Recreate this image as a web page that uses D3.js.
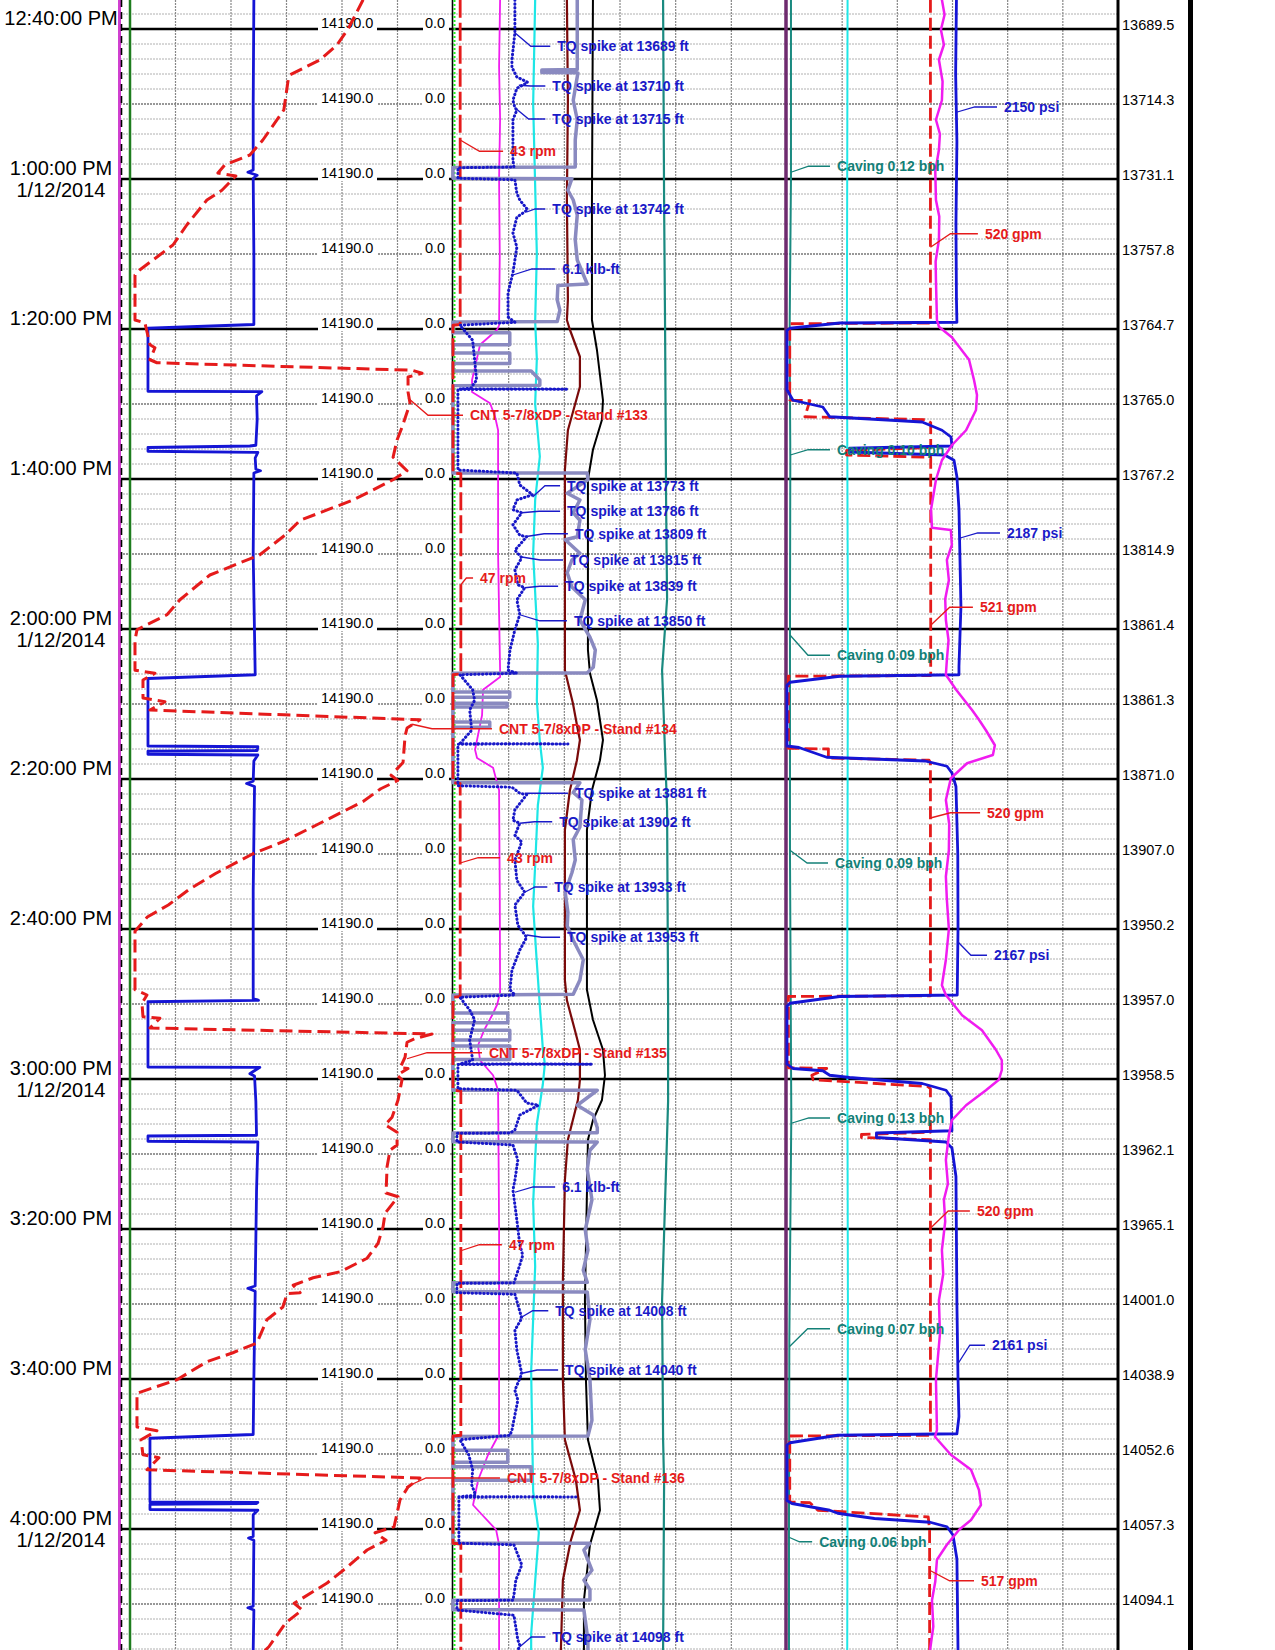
<!DOCTYPE html>
<html><head><meta charset="utf-8">
<script src="https://cdn.jsdelivr.net/npm/d3@7/dist/d3.min.js"></script>
<style>
html,body{margin:0;padding:0;background:#fff;}
svg{display:block;}
text{font-family:"Liberation Sans",Arial,sans-serif;}
</style></head><body>
<svg id="chart" width="1275" height="1650"></svg>
<script>
// ---------- DATA (time = minutes after 12:00 PM, 1/12/2014) ----------
const depthLabels = ["13689.5","13714.3","13731.1","13757.8","13764.7","13765.0","13767.2","13814.9","13861.4","13861.3","13871.0","13907.0","13950.2","13957.0","13958.5","13962.1","13965.1","14001.0","14038.9","14052.6","14057.3","14094.1"];
const scaleLeftLabel = "14190.0";
const scaleRightLabel = "0.0";

// Track 1
const hookLoad = [[36.1,201],[50,200],[58.8,200],[59.1,192],[59.5,206],[59.9,200],[70,201],[79.4,201],[79.9,42],[88.3,42],[88.35,213],[88.9,205],[92,206],[95.5,204],[95.6,195],[95.8,42],[96.3,42],[96.45,207],[97.2,203],[98.7,204],[98.9,211],[99.2,201],[110,200],[126.1,203],[126.6,42],[135.6,42],[135.7,207],[136.2,206],[136.3,42],[136.7,42],[136.8,207],[137.6,201],[140.3,200],[140.6,190],[141,202],[155,200],[169.3,200],[169.5,208],[169.7,42],[178.4,42],[178.45,210],[179,200],[179.3,195],[179.6,202],[183,204],[187.5,205],[187.6,42],[188.3,42],[188.4,207],[195,205],[207.6,203],[207.9,192],[208.3,203],[220,201],[227.4,200],[227.9,45],[236.4,45],[236.45,207],[236.6,205],[236.7,45],[237.4,45],[237.5,207],[238.1,200],[241,200],[241.2,193],[241.5,201],[250.3,200],[250.5,192],[250.8,201],[256.2,200]];
const blockHeight = [[36.1,73.0],[40,68.5],[42.1,65.2],[44.1,60.1],[46.1,51.1],[46.8,50.5],[50.8,49.2],[54.8,42.9],[56.8,39.0],[58.1,31.5],[59.2,29.4],[59.6,34.8],[61.5,30.6],[62.8,26.1],[66.1,20.1],[68.8,15.9],[70.1,12.0],[72.1,6.0],[72.8,4.5],[78.8,4.5],[79.2,7.5],[82.1,9.0],[82.5,10.5],[84.1,9.0],[84.5,11.1],[85.5,87.7],[85.9,90.7],[86.4,86.5],[88.4,86.5],[89.9,87.1],[93.1,84.7],[94.8,83.2],[97.1,82.0],[98.9,86.2],[100.1,82.0],[102.8,70.0],[105.5,54.1],[107.5,49.5],[110.1,42.0],[112.8,27.0],[116.1,18.0],[118.1,14.1],[120.1,5.1],[121.5,4.5],[125.5,4.5],[125.9,10.5],[126.8,6.9],[129.2,6.9],[129.7,13.5],[130.8,9.0],[132.1,90.1],[133.2,86.2],[134.3,85.6],[137.8,85.0],[139.5,81.4],[140.2,83.4],[141.3,78.3],[143.0,73.0],[146.2,58.7],[148.3,49.2],[150.0,39.8],[152.6,28.7],[154.7,20.8],[156.8,14.5],[158.4,8.2],[160.3,4.5],[168.1,4.5],[168.8,8.1],[169.9,6.6],[171.7,6.9],[171.9,12.0],[173.2,9.0],[174.0,93.7],[174.6,88.6],[175.1,86.2],[177.1,85.6],[178.5,84.1],[178.6,86.5],[179.5,83.2],[180.1,84.7],[182.8,83.5],[185.1,81.7],[186.1,79.6],[187.1,83.2],[188.8,83.2],[189.5,81.1],[191.7,80.2],[195.2,79.9],[195.7,83.5],[197.9,79.6],[199.7,79.0],[201.9,77.5],[203.9,74.2],[205.7,66.1],[206.5,58.0],[207.5,52.0],[208.5,54.1],[208.6,50.2],[210.4,48.9],[212.1,44.1],[215.2,41.1],[216.5,33.9],[217.7,26.1],[220.1,17.1],[221.9,5.1],[226.4,5.1],[226.9,11.1],[228.1,6.3],[230.1,6.9],[230.5,11.7],[232.1,8.1],[233.2,90.1],[234.4,86.5],[236.1,84.1],[239.7,82.3],[240.5,76.6],[241.5,79.9],[242.8,74.2],[245.1,68.2],[247.2,62.2],[249.9,52.3],[250.8,54.7],[252.5,49.8],[255.7,44.7],[256.2,43.5]];

// Track 2
const rpm = [[36.1,43],[79.4,43],[79.5,0],[99.2,0],[99.3,47],[126.0,47],[126.1,0],[140.5,0],[140.6,43],[169.0,43],[169.1,0],[181.5,0],[181.6,47],[227.5,47],[227.6,0],[241.9,0],[242.0,47],[256.2,47]];
const torque = [[36.1,6.3],[40.5,6.3],[44.1,6.0],[45.1,6.0],[46.4,6.5],[47.1,7.6],[47.9,6.5],[49.5,6.1],[50.5,6.3],[50.8,6.5],[52.1,6.1],[57.5,6.1],[58.4,6.2],[58.5,0.5],[59.9,0.5],[60.1,6.3],[61.9,6.5],[62.8,6.8],[64.1,7.6],[65.1,6.5],[67.2,6.1],[69.1,6.5],[72.5,6.1],[75.2,5.6],[78.4,5.6],[79.1,6.3],[79.5,0.7],[81.5,2.0],[84.1,2.2],[86.8,2.4],[87.9,1.8],[88.0,0.7],[88.02,11.7],[88.06,0.5],[98.8,0.5],[99.2,6.5],[100.8,6.8],[102.1,8.1],[102.8,6.5],[104.1,6.1],[104.5,7.0],[106.1,6.1],[107.5,6.8],[107.7,7.5],[109.5,6.3],[110.5,7.0],[112.1,6.3],[114.1,6.6],[114.5,7.3],[116.1,6.5],[118.1,6.8],[120.1,6.3],[122.8,5.8],[125.5,5.6],[125.9,6.5],[126.1,0.7],[128.1,2.0],[129.5,2.2],[130.8,1.7],[133.5,1.9],[135.3,0.7],[135.32,11.7],[135.36,0.5],[140.9,0.5],[141.1,6.0],[141.9,6.8],[142.1,7.5],[144.1,6.3],[145.5,6.1],[145.9,6.8],[147.5,6.3],[148.4,7.0],[150.8,6.3],[153.5,6.5],[155.1,7.3],[156.8,6.3],[159.5,6.6],[161.1,7.5],[162.8,6.8],[165.5,6.0],[168.1,5.8],[168.8,6.3],[169.1,0.7],[170.8,1.7],[172.1,2.2],[174.8,1.7],[177.5,2.0],[178.0,0.7],[178.02,14.2],[178.06,0.5],[181.3,0.5],[181.5,6.5],[183.2,7.5],[183.5,8.7],[184.8,6.8],[186.8,6.3],[187.2,5.8],[187.25,0.4],[188.4,0.4],[188.8,6.1],[190.8,6.6],[193.5,6.3],[194.8,6.1],[198.8,6.5],[202.1,6.8],[203.5,7.1],[204.8,6.8],[206.8,6.3],[207.2,6.2],[207.25,0.4],[208.5,0.4],[208.7,6.3],[211.9,7.0],[213.5,6.3],[216.1,6.5],[219.3,7.0],[221.5,6.3],[222.8,6.6],[226.8,6.0],[227.5,5.8],[228.1,0.7],[230.1,1.6],[232.1,2.0],[234.1,1.9],[235.5,2.3],[235.7,0.6],[235.72,12.5],[235.76,0.6],[241.9,0.6],[242.1,6.2],[244.1,6.8],[244.8,7.0],[246.8,6.4],[248.8,6.2],[249.5,6.1],[249.55,0.4],[250.8,0.4],[251.5,6.2],[254.8,6.6],[255.5,6.8],[256.2,6.6]];
const wob = [[36.1,18.6],[45.4,18.6],[45.45,13.3],[45.8,13.3],[45.85,18.7],[49.5,18.0],[52.1,18.6],[54.8,18.3],[58.4,18.3],[58.45,0],[59.9,0],[59.95,17.8],[61.5,17.2],[62.8,18.0],[64.8,18.6],[68.1,18.3],[70.8,18.6],[74.0,20.1],[74.2,15.7],[76.1,15.6],[77.5,16.0],[79.0,15.6],[79.05,0],[80.5,0],[80.5,8.5],[82.1,8.5],[82.1,0],[83.2,0],[83.2,8.5],[84.6,8.5],[84.6,0],[85.6,0],[85.6,11.7],[86.8,13.0],[87.5,13.0],[87.55,0],[99.2,0],[99.2,20.1],[100.1,20.2],[101.9,17.1],[102.8,19.0],[104.5,18.0],[105.5,19.0],[107.7,18.6],[108.1,16.8],[109.9,19.0],[110.8,17.8],[112.5,17.1],[114.4,17.8],[116.1,19.8],[118.8,19.0],[121.1,20.5],[122.8,21.3],[125.1,21.0],[125.85,20.1],[125.9,0],[128.4,0],[128.4,8.5],[129.1,8.5],[129.1,0],[129.9,0],[129.9,8.1],[130.4,8.1],[130.4,0],[132.4,0],[132.4,5.5],[133.1,5.5],[133.1,0],[140.5,0],[140.5,19.0],[141.8,18.0],[142.8,19.3],[146.4,19.0],[148.1,18.0],[150.8,18.3],[152.5,17.8],[155.1,16.8],[157.8,17.2],[159.6,17.1],[161.5,18.0],[164.1,19.5],[166.8,19.0],[168.7,18.0],[168.8,0],[171.2,0],[171.2,8.2],[172.5,8.2],[172.5,0],[173.5,0],[173.5,8.5],[174.8,8.5],[174.8,0],[175.6,0],[175.6,8.5],[177.4,8.5],[177.4,0],[181.5,0],[181.5,21.6],[183.5,18.6],[184.8,21.0],[186.5,21.6],[187.15,21.6],[187.2,0],[188.35,0],[188.4,21.6],[189.5,20.5],[192.1,20.1],[196.1,20.8],[200.1,19.8],[202.8,20.2],[205.5,19.5],[207.1,20.1],[207.15,0],[208.35,0],[208.4,20.1],[212.1,20.5],[216.1,19.8],[220.1,20.5],[225.5,20.8],[227.6,20.2],[227.65,0],[229.5,0],[229.5,8.2],[231.1,8.2],[231.1,0],[231.7,0],[231.7,11.7],[233.5,11.7],[233.5,0],[241.9,0],[241.9,20.5],[242.8,19.6],[245.5,20.8],[246.8,19.6],[248.1,20.5],[249.45,20.5],[249.5,0],[250.75,0],[250.8,19.6],[254.8,20.2],[256.2,20.2]];
const magenta2 = [[36.1,14.1],[45,13.8],[52,14.1],[60,13.8],[70,14.0],[79.5,13.8],[80.1,13.2],[82.1,8.1],[86.8,5.7],[88.4,5.7],[89.9,11.1],[91.7,12.6],[93.5,13.5],[110,13.5],[118,13.8],[125.5,14.1],[126.4,14.1],[128.1,9.0],[131.5,8.7],[136.1,6.6],[137.2,7.2],[138.5,12.0],[141.5,13.8],[155,14.0],[168.5,14.1],[170.1,13.2],[171.5,11.7],[173.5,9.3],[175.5,7.5],[177.5,8.1],[179.5,12.0],[181.5,13.5],[200,13.8],[227.5,13.8],[228.1,12.9],[230.1,10.5],[233.5,7.5],[236.8,6.0],[238.1,8.7],[240.1,12.9],[242.1,13.8],[256.2,13.8]];
const cyan2 = [[36.1,24.6],[50,24.0],[70,25.1],[79,24.6],[84,25.1],[90,24.6],[97,26.0],[102.8,24.6],[110,24.0],[122,25.4],[129.5,25.1],[135,26.0],[138.5,26.9],[143.5,25.4],[151.5,24.6],[157,24.0],[164.5,25.1],[176,26.9],[178,27.5],[180.7,26.9],[186,25.1],[196.5,24.0],[205,24.6],[219,23.4],[235,24.0],[240.5,25.7],[254,23.4],[256.2,23.4]];
const maroon2 = [[36.1,34.1],[49.5,34.4],[62.8,34.1],[76.1,34.4],[78.8,34.1],[80.1,35.0],[83.7,38.0],[87.7,38.0],[93.5,34.4],[98.8,33.5],[125.5,33.5],[129.9,35.9],[133.5,37.4],[134.8,38.0],[137.5,37.1],[141.5,35.0],[146.8,33.5],[166.8,33.5],[169.5,34.1],[173.5,36.5],[176.1,38.0],[180.1,38.0],[182.8,37.4],[188.1,34.4],[193.5,33.5],[206.8,32.9],[220.1,32.9],[228.1,33.5],[233.5,36.8],[237.5,38.0],[241.5,35.3],[246.8,32.9],[256.2,32.3]];
const black2 = [[36.1,41.9],[62.8,41.6],[78.8,41.6],[82.8,43.1],[89.5,44.9],[92.1,44.6],[96.1,41.9],[100.1,40.4],[122.8,40.4],[125.9,41.0],[129.5,43.1],[134.8,44.9],[137.5,44.0],[141.5,41.6],[146.8,40.1],[168.1,40.1],[172.1,41.9],[176.1,44.9],[179.5,45.5],[182.8,44.6],[185.5,41.9],[188.1,40.4],[209.5,39.5],[220.1,39.8],[228.1,40.4],[233.5,43.4],[237.5,44.0],[242.1,41.0],[249.5,39.2],[256.2,39.2]];
const teal2 = [[36.1,62.9],[62.8,63.2],[80,63.5],[103,63.8],[116,64.1],[125.5,62.6],[144,64.1],[170,64.4],[183,64.4],[209.5,62.6],[228,62.9],[234,63.2],[256.2,62.9]];

// Track 3
const flow = [[36.1,520],[79.2,520],[79.3,10],[89.45,10],[89.5,22],[89.55,83],[91.7,65],[92.1,505],[92.5,521],[95.8,521],[96.2,216],[96.8,216],[97.1,521],[126.2,521],[126.3,5],[135.9,5],[136.0,150],[137.2,150],[137.5,515],[137.8,520],[168.9,520],[169.0,5],[178.5,5],[178.6,144],[179.5,90],[180.1,95],[181.0,510],[181.3,520],[187.1,520],[187.4,270],[187.8,270],[188.1,520],[227.5,520],[227.6,10],[236.4,10],[236.5,83],[237.5,112],[238.4,512],[240.1,517],[256.2,517]];
const spp = [[36.1,2150],[46,2140],[55,2156],[66,2144],[76,2150],[79.1,2156],[79.2,668],[79.9,38],[80.2,0],[88.1,0],[89.5,76],[90.4,454],[91.7,542],[92.4,1715],[93.5,1967],[94.4,2081],[95.6,2093],[95.9,794],[96.4,794],[96.8,2000],[97.5,2119],[99.7,2156],[104,2182],[117,2207],[125,2182],[126.1,2182],[126.3,668],[127.1,38],[127.5,0],[135.6,0],[135.8,151],[137.1,504],[137.6,1753],[138.3,2030],[139.2,2093],[141,2144],[150,2167],[160,2170],[168.8,2160],[169.0,668],[169.9,38],[170.3,0],[178.0,0],[178.6,76],[178.9,454],[179.5,542],[179.8,794],[180.6,1715],[181.5,2018],[182.4,2081],[186.9,2093],[187.2,1135],[187.8,1135],[188.4,2018],[189.2,2093],[193,2144],[210,2156],[220,2170],[225,2182],[227.3,2156],[227.5,643],[228.5,38],[228.8,0],[236.2,0],[236.6,63],[237.5,542],[237.9,643],[238.6,1110],[239.1,1816],[239.7,2030],[240.8,2106],[244,2156],[256.2,2170]];
const magenta3 = [[36.1,46.8],[38.1,47.6],[40.1,46.5],[42.1,47.4],[44.1,45.9],[47,47.0],[49.5,46.8],[52.1,45.0],[54,46.2],[56.1,45.9],[59,44.8],[62.8,45.0],[65,46.0],[68.1,45.9],[71,44.9],[73.5,45.0],[78.8,45.3],[79.7,45.9],[81.1,49.8],[84.1,55.0],[86.8,56.5],[88.8,57.4],[90.8,57.1],[93.5,54.1],[95.5,49.8],[97.5,46.8],[100.1,45.0],[104.1,43.5],[106.5,43.8],[106.8,49.5],[108.8,49.8],[110.8,48.3],[113.5,48.9],[116,47.8],[118.8,48.0],[121.5,48.8],[124.1,48.3],[126.1,48.0],[128.1,51.1],[130.8,55.9],[132.1,58.0],[133.5,60.1],[135.5,62.8],[136.8,62.2],[137.9,54.4],[139.9,49.5],[142.8,48.0],[146,49.0],[149.5,48.9],[153,48.0],[156.1,48.3],[160,48.9],[164.1,48.0],[167.5,46.8],[168.8,48.0],[171.5,52.9],[173.5,58.9],[176.1,63.1],[177.5,64.9],[178.8,64.9],[180.1,64.0],[181.5,60.1],[183.5,54.1],[185.5,49.8],[187.5,48.9],[190.8,48.0],[194,48.6],[196.1,47.4],[199,47.8],[202.8,46.8],[206,47.2],[209.5,45.9],[214,46.2],[220.1,45.0],[226.8,45.3],[227.7,44.7],[230.1,49.5],[232.1,55.6],[234.8,58.0],[236.8,58.6],[238.8,55.6],[240.1,52.0],[242.1,48.3],[244.1,45.3],[247,44.8],[249.5,43.8],[253,44.2],[256.2,43.2]];
const cyan3 = [[36.1,18.3],[80,18.1],[120,18.4],[170,18.2],[210,18.4],[256.2,18.2]];
const caving = [[36.1,0.12],[60,0.12],[80,0.08],[97,0.10],[120,0.09],[150,0.09],[185,0.13],[200,0.10],[215,0.07],[241,0.06],[256.2,0.06]];

// Annotations: [text, tip time, tip value, label time, leader-end value]
const torqueNotes = [["TQ spike at 13689 ft",40.5,6.3,42.3,9.9],["TQ spike at 13710 ft",47.5,6.7,47.6,9.4],["TQ spike at 13715 ft",50.5,6.3,52.0,9.4],["TQ spike at 13742 ft",64.4,7.5,64.0,9.4],["6.1 klb-ft",72.8,6.1,72.0,10.4],["TQ spike at 13773 ft",102.4,8.1,100.9,10.9],["TQ spike at 13786 ft",104.5,7.0,104.3,10.9],["TQ spike at 13809 ft",107.7,7.3,107.3,11.7],["TQ spike at 13815 ft",110.4,7.0,110.8,11.2],["TQ spike at 13839 ft",114.5,7.3,114.3,10.7],["TQ spike at 13850 ft",118.1,6.8,118.9,11.6],["TQ spike at 13881 ft",141.9,7.3,141.9,11.7],["TQ spike at 13902 ft",145.9,6.8,145.7,10.1],["TQ spike at 13933 ft",155.1,7.3,154.4,9.6],["TQ spike at 13953 ft",160.8,7.5,161.1,10.9],["6.1 klb-ft",195.1,6.3,194.4,10.4],["TQ spike at 14008 ft",211.9,6.8,210.9,9.7],["TQ spike at 14040 ft",219.3,6.8,218.8,10.7],["TQ spike at 14098 ft",255.7,6.8,254.4,9.4]];
const rpmNotes = [["43 rpm",54.8,43,56.3,300],["47 rpm",114.1,47,113.2,120],["43 rpm",151.2,43,150.5,282],["47 rpm",202.9,47,202.1,293]];
const standNotes = [["CNT 5-7/8xDP - Stand #133",89.2,86.5,91.5,103.0],["CNT 5-7/8xDP - Stand #134",132.7,87.7,133.3,111.7],["CNT 5-7/8xDP - Stand #135",177.3,86.2,176.5,108.7],["CNT 5-7/8xDP - Stand #136",234.4,85.9,233.2,114.1]];
const sppNotes = [["2150 psi",51.1,2150,50.4,2665],["2187 psi",107.9,2187,107.2,2703],["2167 psi",161.7,2167,163.5,2538],["2161 psi",218.1,2161,215.5,2513]];
const flowNotes = [["520 gpm",69.1,520,67.3,692],["521 gpm",119.5,521,117.1,674],["520 gpm",145.2,520,144.5,700],["520 gpm",199.9,520,197.6,663],["517 gpm",245.5,517,246.9,678]];
const cavingNotes = [["Caving 0.12 bph",59.1,0.12,58.3,1.30],["Caving 0.10 bph",96.8,0.10,96.1,1.30],["Caving 0.09 bph",120.8,0.09,123.5,1.30],["Caving 0.09 bph",149.5,0.09,151.2,1.24],["Caving 0.13 bph",185.9,0.13,185.2,1.30],["Caving 0.07 bph",215.7,0.07,213.3,1.30],["Caving 0.06 bph",241.1,0.06,241.7,0.76]];

// ---------- CHART ----------
const W = 1275, H = 1650;
const base = new Date(2014,0,12,12,0,0).getTime();
const T = m => new Date(base + m*60000);
const y = d3.scaleTime().domain([T(36+8/60), T(256+8/60)]).range([0, H]);

const X1 = [120,453], X2 = [453,787], X3 = [787,1118];
const xs = {
  hook: d3.scaleLinear().domain([0,500]).range(X1),
  block: d3.scaleLinear().domain([0,100]).range(X1),
  rpm: d3.scaleLinear().domain([0,2000]).range(X2),
  torque: d3.scaleLinear().domain([0,34]).range(X2),
  wob: d3.scaleLinear().domain([0,50]).range(X2),
  pct2: d3.scaleLinear().domain([0,100]).range(X2),
  flow: d3.scaleLinear().domain([0,1200]).range(X3),
  spp: d3.scaleLinear().domain([0,4200]).range(X3),
  pct3: d3.scaleLinear().domain([0,100]).range(X3),
  caving: d3.scaleLinear().domain([0,10]).range(X3)
};

const svg = d3.select("#chart");
svg.append("rect").attr("width",W).attr("height",H).attr("fill","#fff");

const [t0, t1] = y.domain();
const grid = svg.append("g");
// horizontal grid
const twoMin = d3.timeMinute.every(2).range(t0, t1);
twoMin.forEach(d => {
  const m = d.getMinutes();
  if (m % 10 === 0) return;
  grid.append("line").attr("x1",X1[0]).attr("x2",X3[1]).attr("y1",y(d)).attr("y2",y(d))
    .attr("stroke","#b0b0b0").attr("stroke-width",1).attr("stroke-dasharray","2,1");
});
// vertical grid
[X1,X2,X3].forEach(X => {
  const gs = d3.scaleLinear().domain([0,6]).range(X);
  d3.range(1,6).forEach(i => {
    grid.append("line").attr("x1",gs(i)).attr("x2",gs(i)).attr("y1",0).attr("y2",H)
      .attr("stroke","#888").attr("stroke-width",1.2).attr("stroke-dasharray","2,1");
  });
});
const tenMin = d3.timeMinute.every(10).range(t0, t1);
tenMin.forEach(d => {
  const major = d.getMinutes() % 20 === 0;
  grid.append("line").attr("x1",X1[0]).attr("x2",X3[1]).attr("y1",y(d)).attr("y2",y(d))
    .attr("stroke", major ? "#000" : "#777").attr("stroke-width", major ? 2.5 : 1.3)
    .attr("stroke-dasharray", major ? null : "2,1");
});
// scale labels on 10-minute lines
tenMin.forEach((d,i) => {
  const yy = y(d);
  grid.append("rect").attr("x",318).attr("y",yy-13).attr("width",59).attr("height",15).attr("fill","#fff");
  grid.append("rect").attr("x",423).attr("y",yy-13).attr("width",26).attr("height",15).attr("fill","#fff");
  grid.append("text").attr("x",321).attr("y",yy-1).attr("font-size","14.5px").text(scaleLeftLabel);
  grid.append("text").attr("x",425).attr("y",yy-1).attr("font-size","14.5px").text(scaleRightLabel);
  if (depthLabels[i] !== undefined)
    grid.append("text").attr("x",1122).attr("y",yy+1).attr("font-size","14.5px").text(depthLabels[i]);
});
// time labels
const fmtTime = d3.timeFormat("%-I:%M:%S %p"), fmtDate = d3.timeFormat("%-m/%-d/%Y");
d3.timeMinute.every(20).range(t0, t1).forEach(d => {
  const yy = y(d);
  grid.append("text").attr("x",61).attr("y",yy-4).attr("text-anchor","middle").attr("font-size","20px").text(fmtTime(d));
  if (d.getMinutes() === 0)
    grid.append("text").attr("x",61).attr("y",yy+18).attr("text-anchor","middle").attr("font-size","20px").text(fmtDate(d));
});

// track borders
const vline = (x, color, w, dash) => svg.append("line").attr("x1",x).attr("x2",x).attr("y1",0).attr("y2",H)
  .attr("stroke",color).attr("stroke-width",w).attr("stroke-dasharray",dash||null);
vline(119.5,"#d040d0",3);
vline(121.5,"#000",1.6,"7,5");
vline(130,"#1e7d1e",2.5);
vline(452.5,"#000",1.6);
vline(454.5,"#22ee22",2,"2,2");
vline(786,"#6e2a6e",3.5);
vline(1118,"#000",3);
vline(1190.5,"#000",5);

// curves
const curves = svg.append("g").attr("fill","none").attr("stroke-linejoin","round");
function draw(data, sc, color, w, dash, cap) {
  const line = d3.line().x(d => sc(d[1])).y(d => y(T(d[0])));
  curves.append("path").datum(data).attr("d", line).attr("stroke", color).attr("stroke-width", w)
    .attr("stroke-dasharray", dash || null).attr("stroke-linecap", cap || "butt");
}
// track 1
draw(hookLoad, xs.hook, "#1515d5", 2.8);
draw(blockHeight, xs.block, "#e51b1b", 3, "13,6");
// track 2
draw(magenta2, xs.pct2, "#f01cf0", 1.8);
draw(cyan2, xs.pct2, "#1ee6e6", 2.2);
draw(maroon2, xs.pct2, "#7a0a0a", 2.2);
draw(black2, xs.pct2, "#000", 2);
draw(teal2, xs.pct2, "#1a8a80", 2.2);
draw(wob, xs.wob, "#8a8ac0", 3.5);
draw(rpm, xs.rpm, "#e51b1b", 2.8, "18,5");
draw(torque, xs.torque, "#1818c8", 3, "0.5,3.4", "round");
// track 3
draw(cyan3, xs.pct3, "#1ee6e6", 2);
draw(caving, xs.caving, "#1a8a80", 2);
draw(flow, xs.flow, "#e51b1b", 2.8, "13,5");
draw(spp, xs.spp, "#1515d5", 2.8);
draw(magenta3, xs.pct3, "#f01cf0", 2.5);

// annotations
const notes = svg.append("g");
function annotate(list, sc, color) {
  list.forEach(([txt, tt, tv, lt, lv]) => {
    const tx = sc(tv), ty = y(T(tt)), ex = sc(lv), ly = y(T(lt));
    const elbow = tx + Math.min(20, 0.45*(ex - tx));
    notes.append("polyline").attr("points", `${tx},${ty} ${elbow},${ly} ${ex},${ly}`)
      .attr("fill","none").attr("stroke",color).attr("stroke-width",1.3);
    notes.append("text").attr("x", ex + 7).attr("y", ly).attr("dy","0.35em")
      .attr("font-size","14px").attr("font-weight","bold").attr("fill",color).text(txt);
  });
}
annotate(torqueNotes, xs.torque, "#1a1ac8");
annotate(rpmNotes, xs.rpm, "#e51b1b");
annotate(standNotes, xs.block, "#e51b1b");
annotate(sppNotes, xs.spp, "#1a1ac8");
annotate(flowNotes, xs.flow, "#e51b1b");
annotate(cavingNotes, xs.caving, "#138077");
</script>
</body></html>
